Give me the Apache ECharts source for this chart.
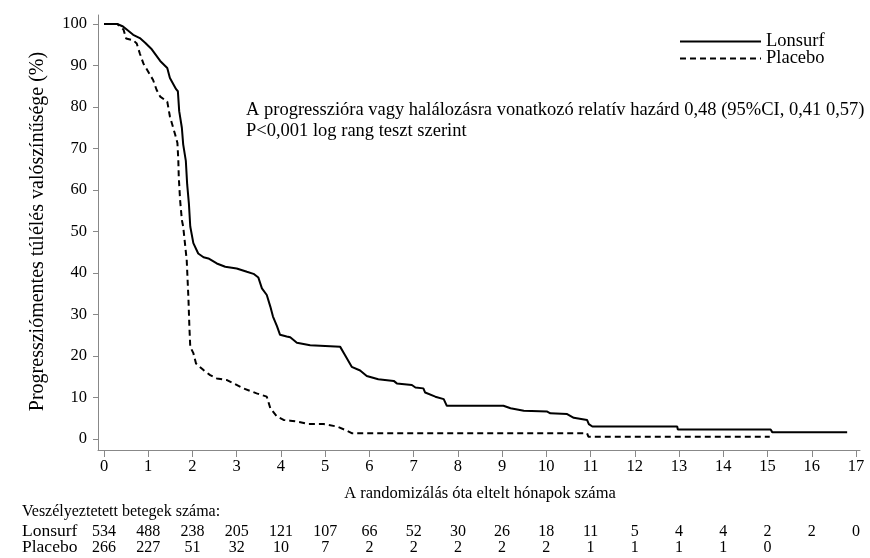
<!DOCTYPE html>
<html><head><meta charset="utf-8">
<script src="https://cdn.jsdelivr.net/npm/echarts@6/dist/echarts.min.js"></script>
<style>html,body{margin:0;padding:0;background:#fff}#c{width:870px;height:558px}</style>
</head><body><div id="c"></div>
<script>
// Kaplan-Meier curves (months, survival %)
const lonsurfT = [0,0.3,0.43,0.66,0.81,0.93,1.08,1.27,1.43,1.49,1.63,1.67,1.70,1.76,1.79,1.85,1.88,1.92,1.95,2.02,2.13,2.25,2.36,2.55,2.74,3.00,3.23,3.38,3.49,3.57,3.68,3.76,3.82,3.91,3.98,4.13,4.21,4.36,4.66,5.34,5.45,5.60,5.79,5.94,6.20,6.55,6.62,6.96,7.04,7.22,7.26,7.49,7.68,7.75,9.03,9.19,9.49,10.02,10.09,10.47,10.62,10.92,10.96,11.04,12.96,12.97,15.07,15.11,16.80];
const lonsurfS = [100,100,99.4,97.4,96.6,95.5,93.9,91.1,89.4,87,84.3,83.8,79,75,71,67,61.4,56.6,51.2,47.2,44.7,43.8,43.5,42.3,41.5,41.1,40.3,39.8,38.9,36.3,34.7,31.9,29.5,27.2,25.1,24.7,24.5,23.2,22.6,22.2,20.2,17.4,16.5,15.2,14.4,14.0,13.4,13.0,12.4,12.2,11.2,10.2,9.6,8.0,8.0,7.4,6.8,6.6,6.2,6.0,5.1,4.6,3.6,3.0,3.0,2.3,2.3,1.6,1.6];
const placeboT = [0,0.3,0.44,0.50,0.66,0.74,0.81,0.89,1.00,1.11,1.19,1.27,1.43,1.49,1.61,1.66,1.68,1.69,1.72,1.76,1.79,1.87,1.91,1.93,1.95,2.02,2.08,2.25,2.40,2.55,2.78,2.93,3.15,3.45,3.68,3.76,3.91,4.06,4.21,4.36,4.62,4.96,5.27,5.45,5.60,10.92,10.95,15.05];
const placeboS = [100,100,98.7,96.5,96.1,95.3,92.9,90.5,88.5,86.5,84.1,82.5,81.3,77.7,73.3,71.3,67.2,63.2,57.6,52.8,51.2,43.1,33.5,27.1,22.2,20.7,18.2,16.6,15.4,14.6,14.2,13.4,12.2,11.0,10.2,7.4,5.4,4.6,4.4,4.2,3.6,3.6,3.0,2.2,1.4,1.4,0.55,0.55];
// Number at risk
const lonsurfRisk = [534,488,238,205,121,107,66,52,30,26,18,11,5,4,4,2,2,0];
const placeboRisk = [266,227,51,32,10,7,2,2,2,2,2,1,1,1,1,0];
const seriesNames = ['Lonsurf','Placebo'];
const yAxisTitle = 'Progressziómentes túlélés valószínűsége (%)';
const xAxisTitle = 'A randomizálás óta eltelt hónapok száma';
const noteLines = ['A progresszióra vagy halálozásra vonatkozó relatív hazárd 0,48 (95%CI, 0,41 0,57)','P<0,001 log rang teszt szerint'];
const riskTitle = 'Veszélyeztetett betegek száma:';

const FONT = 'Liberation Serif';
const t = (size, extra) => Object.assign({fontFamily: FONT, fontSize: size, color: '#000', fontWeight:'normal'}, extra || {});
const zip = (a,b)=>a.map((v,i)=>[v,b[i]]);
const chart = echarts.init(document.getElementById('c'), null, {renderer:'canvas'});
const hidden = {show:false};
chart.setOption({
  animation:false,
  backgroundColor:'#fff',
  textStyle:{fontFamily:FONT},
  grid:[
    {left:104, right:14, top:24, bottom:119},
    {left:98, right:10, top:15, bottom:108}
  ],
  xAxis:[
    {gridIndex:0, type:'value', min:0, max:17, interval:1, offset:11,
     axisLine:{show:false, onZero:false}, splitLine:hidden,
     axisTick:{show:true, length:7, lineStyle:{color:'#888'}},
     axisLabel:Object.assign({margin:8}, t(16.5)),
     name:xAxisTitle, nameLocation:'middle', nameGap:35, nameTextStyle:t(16.5)},
    {gridIndex:0, type:'value', min:0, max:17, interval:1, position:'bottom', offset:84.5,
     axisLine:{show:false, onZero:false}, axisTick:hidden, splitLine:hidden,
     axisLabel:Object.assign({margin:0, formatter:v=>lonsurfRisk[v]===undefined?'':String(lonsurfRisk[v])}, t(16))},
    {gridIndex:0, type:'value', min:0, max:17, interval:1, position:'bottom', offset:100.5,
     axisLine:{show:false, onZero:false}, axisTick:hidden, splitLine:hidden,
     axisLabel:Object.assign({margin:0, formatter:v=>placeboRisk[v]===undefined?'':String(placeboRisk[v])}, t(16))},
    {gridIndex:1, type:'value', min:0, max:1, axisLine:{show:true, onZero:false, lineStyle:{color:'#888', width:1}},
     axisTick:hidden, axisLabel:hidden, splitLine:hidden}
  ],
  yAxis:[
    {gridIndex:0, type:'value', min:0, max:100, interval:10, offset:6,
     axisLine:{show:false, onZero:false}, splitLine:hidden,
     axisTick:{show:true, length:5, lineStyle:{color:'#888'}},
     axisLabel:Object.assign({margin:11}, t(16.5)),
     name:yAxisTitle, nameLocation:'middle', nameGap:50, nameRotate:90, nameTextStyle:t(20)},
    {gridIndex:1, type:'value', min:0, max:1, axisLine:{show:true, onZero:false, lineStyle:{color:'#888', width:1}},
     axisTick:hidden, axisLabel:hidden, splitLine:hidden}
  ],
  legend:{
    orient:'vertical', left:679, top:32, itemWidth:81, itemHeight:14, itemGap:-2, padding:0,
    data:seriesNames, textStyle:t(18.5, {lineHeight:17}), itemStyle:{opacity:0}
  },
  title:[
    {text:noteLines.join('\n'), left:246, top:100, padding:0, textStyle:t(18.5, {lineHeight:21})},
    {text:riskTitle, left:22, top:504, padding:0, textStyle:t(16)},
    {text:seriesNames[0], left:22, top:522, padding:0, textStyle:t(17.5)},
    {text:seriesNames[1], left:22, top:538, padding:0, textStyle:t(17.5)}
  ],
  series:[
    {name:seriesNames[0], type:'line', xAxisIndex:0, yAxisIndex:0, data:zip(lonsurfT,lonsurfS),
     symbol:'none', lineStyle:{color:'#000', width:2, type:'solid'}, itemStyle:{color:'#000'}},
    {name:seriesNames[1], type:'line', xAxisIndex:0, yAxisIndex:0, data:zip(placeboT,placeboS),
     symbol:'none', lineStyle:{color:'#000', width:2, type:[6,4]}, itemStyle:{color:'#000'}}
  ]
});
</script></body></html>
